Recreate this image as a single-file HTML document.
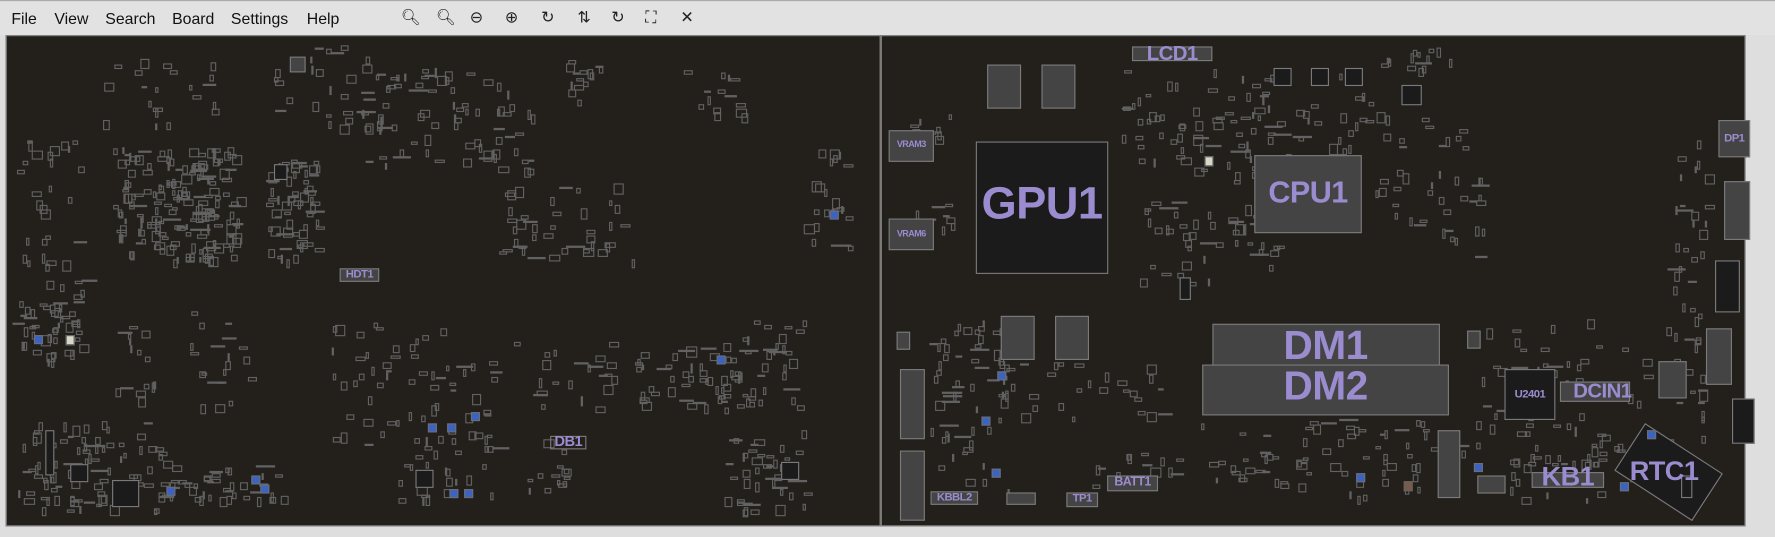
<!DOCTYPE html>
<html><head><meta charset="utf-8">
<style>
html,body{margin:0;padding:0;background:#dedede;overflow:hidden;width:1775px;height:536px}
#root{position:absolute;left:0;top:0;width:1568px;height:474px;transform:scale(1.13202);transform-origin:0 0;font-family:"Liberation Sans",sans-serif}
.menu{position:absolute;top:0;left:0;width:1568px;height:30px;background:#e2e2e2;border-top:1px solid #aaa}
.menu span{position:absolute;top:7px;font-size:14px;color:#111}
.menu i{position:absolute;top:6px;font-style:normal;font-size:14px;color:#222}
.panel{position:absolute;background:#23201c;border:1px solid #888;overflow:hidden}
.c{position:absolute;border:1px solid #7a7a7a;box-sizing:border-box;z-index:2}
.f{background:#444}
.d{background:#1c1b1b}
.l{position:absolute;color:#9b8ccf;font-weight:bold;white-space:nowrap;text-align:center;letter-spacing:-0.5px;z-index:5}
.s{position:absolute;border:1px solid #626262;box-sizing:border-box;z-index:1}
.b{position:absolute;background:#3a63c4;border:1px solid #6e6e6e;box-sizing:border-box;z-index:3}
</style></head><body>
<div id="root">
<div class="menu">
<span style="left:10px">File</span><span style="left:48px">View</span><span style="left:93px">Search</span><span style="left:152px">Board</span><span style="left:204px">Settings</span><span style="left:271px">Help</span>
<i style="left:354px">🔍︎</i><i style="left:385px">🔍︎</i><i style="left:415px">⊖</i><i style="left:446px">⊕</i><i style="left:478px">↻</i><i style="left:510px">⇅</i><i style="left:540px">↻</i><i style="left:570px">⛶</i><i style="left:601px">✕</i>
</div>
<div class="panel" id="L" style="left:5px;top:31px;width:771px;height:432px"></div>
<div class="panel" id="R" style="left:778px;top:31px;width:762px;height:432px"></div>
<div style="position:absolute;left:0;top:0" id="big">
<div class="c d" style="left:862px;top:125px;width:117px;height:117px"></div>
<div class="l" style="left:862px;top:158px;width:117px;font-size:40px">GPU1</div>
<div class="c f" style="left:1108px;top:137px;width:95px;height:69px"></div>
<div class="l" style="left:1108px;top:155px;width:95px;font-size:27px">CPU1</div>
<div class="c f" style="left:1071px;top:286px;width:201px;height:37px"></div>
<div class="c f" style="left:1062px;top:322px;width:218px;height:45px"></div>
<div class="l" style="left:1062px;top:287px;width:218px;font-size:36px;line-height:36px">DM1<br>DM2</div>
<div class="c f" style="left:785px;top:115px;width:40px;height:28px"></div>
<div class="l" style="left:785px;top:123px;width:40px;font-size:8px">VRAM3</div>
<div class="c f" style="left:785px;top:193px;width:40px;height:28px"></div>
<div class="l" style="left:785px;top:202px;width:40px;font-size:8px">VRAM6</div>
<div class="c f" style="left:1000px;top:41px;width:71px;height:13px"></div>
<div class="l" style="left:1000px;top:37px;width:71px;font-size:18px">LCD1</div>
<div class="c f" style="left:1518px;top:106px;width:28px;height:33px"></div>
<div class="l" style="left:1518px;top:117px;width:28px;font-size:10px">DP1</div>
<div class="c d" style="left:1329px;top:326px;width:45px;height:45px"></div>
<div class="l" style="left:1329px;top:343px;width:45px;font-size:10px">U2401</div>
<div class="c f" style="left:1378px;top:337px;width:62px;height:18px"></div>
<div class="l" style="left:1378px;top:335px;width:75px;font-size:18px">DCIN1</div>
<div class="c f" style="left:1353px;top:417px;width:64px;height:14px"></div>
<div class="l" style="left:1350px;top:408px;width:70px;font-size:24px">KB1</div>
<div class="c d" style="left:1433px;top:392px;width:82px;height:50px;transform:rotate(33deg)"></div>
<div class="l" style="left:1430px;top:403px;width:80px;font-size:24px">RTC1</div>
<div class="c f" style="left:822px;top:434px;width:42px;height:12px"></div>
<div class="l" style="left:822px;top:434px;width:42px;font-size:10px">KBBL2</div>
<div class="c f" style="left:889px;top:435px;width:26px;height:11px"></div>
<div class="c f" style="left:942px;top:435px;width:28px;height:13px"></div>
<div class="l" style="left:942px;top:435px;width:28px;font-size:10px">TP1</div>
<div class="c f" style="left:978px;top:420px;width:45px;height:14px"></div>
<div class="l" style="left:978px;top:420px;width:45px;font-size:11px">BATT1</div>
<div class="c f" style="left:872px;top:57px;width:30px;height:39px"></div>
<div class="c f" style="left:920px;top:57px;width:30px;height:39px"></div>
<div class="c f" style="left:884px;top:279px;width:30px;height:39px"></div>
<div class="c f" style="left:932px;top:279px;width:30px;height:39px"></div>
<div class="c f" style="left:795px;top:326px;width:22px;height:62px"></div>
<div class="c f" style="left:795px;top:398px;width:22px;height:62px"></div>
<div class="c f" style="left:792px;top:293px;width:12px;height:16px"></div>
<div class="c f" style="left:1296px;top:292px;width:12px;height:16px"></div>
<div class="c f" style="left:1270px;top:380px;width:20px;height:60px"></div>
<div class="c f" style="left:1305px;top:420px;width:25px;height:16px"></div>
<div class="c f" style="left:1523px;top:160px;width:23px;height:52px"></div>
<div class="c d" style="left:1515px;top:230px;width:22px;height:46px"></div>
<div class="c f" style="left:1507px;top:290px;width:23px;height:50px"></div>
<div class="c f" style="left:1465px;top:319px;width:25px;height:33px"></div>
<div class="c d" style="left:1530px;top:352px;width:20px;height:40px"></div>
<div class="c d" style="left:1485px;top:420px;width:10px;height:20px"></div>
<div class="c d" style="left:1125px;top:60px;width:16px;height:16px"></div>
<div class="c d" style="left:1158px;top:60px;width:16px;height:16px"></div>
<div class="c d" style="left:1188px;top:60px;width:16px;height:16px"></div>
<div class="c d" style="left:1238px;top:75px;width:18px;height:18px"></div>
<div class="c d" style="left:1042px;top:245px;width:10px;height:20px"></div>
<div class="c f" style="left:300px;top:237px;width:35px;height:12px"></div>
<div class="l" style="left:300px;top:237px;width:35px;font-size:10px">HDT1</div>
<div class="c" style="left:486px;top:385px;width:32px;height:12px"></div>
<div class="l" style="left:483px;top:382px;width:38px;font-size:13px">DB1</div>
<div class="c f" style="left:256px;top:50px;width:14px;height:14px"></div>
<div class="c d" style="left:62px;top:410px;width:16px;height:16px"></div>
<div class="c d" style="left:99px;top:424px;width:24px;height:24px"></div>
<div class="c d" style="left:367px;top:415px;width:16px;height:16px"></div>
<div class="c d" style="left:690px;top:408px;width:16px;height:16px"></div>
<div class="c d" style="left:40px;top:380px;width:8px;height:40px"></div>
<div class="c d" style="left:242px;top:145px;width:12px;height:14px"></div>
</div>
</div>
<script>
var seed=7;function r(){seed=(seed*16807)%2147483647;return (seed-1)/2147483646;}
var big=document.getElementById('big');
function cl(cx,cy,w,h,n){
 n=Math.round(n*0.7);
 for(var i=0;i<n;i++){
  var e=document.createElement('div');
  var t=r();var ww,hh;
  if(t<0.4){ww=2+r()*3;hh=5+r()*4;}else if(t<0.7){ww=5+r()*4;hh=2+r()*3;}else if(t<0.92){ww=5+r()*5;hh=5+r()*5;}else{ww=10+r()*8;hh=2;}
  e.className='s';
  e.style.left=(cx+r()*w)+'px';e.style.top=(cy+r()*h)+'px';
  e.style.width=ww+'px';e.style.height=hh+'px';
  big.appendChild(e);
 }
}
var C=[[100,130,110,100,260],[235,140,45,90,90],[300,90,170,60,80],[340,60,120,20,30],[440,160,120,70,60],[15,120,60,180,60],[10,260,60,60,50],[15,370,130,80,120],[140,410,110,30,60],[100,270,120,90,50],[290,280,60,120,40],[360,290,100,80,40],[470,300,70,60,30],[560,300,90,60,70],[650,280,60,80,50],[640,380,70,70,60],[350,380,90,60,50],[460,385,40,50,20],[710,130,40,90,30],[490,50,40,40,20],[600,60,60,40,20],[240,40,100,70,40],[90,50,100,60,30],
[990,60,230,80,100],[1000,100,130,150,110],[1210,100,80,100,30],[1270,120,40,110,30],[1470,120,40,320,80],[1300,280,160,130,90],[1180,370,120,70,60],[1060,370,120,60,50],[820,280,70,160,90],[880,320,160,50,40],[1330,380,140,60,50],[960,400,80,30,20],[800,100,40,20,15],[800,180,40,20,15],[1220,40,60,20,20]];
C.forEach(function(c){cl(c[0],c[1],c[2],c[3],c[4]);});
var B=[[30,296],[147,430],[222,420],[230,428],[378,374],[395,374],[416,364],[397,432],[410,432],[633,314],[733,186],[881,328],[867,368],[876,414],[1198,418],[1302,409],[1455,380],[1431,426]];
B.forEach(function(p){var e=document.createElement('div');e.className='b';e.style.left=p[0]+'px';e.style.top=p[1]+'px';e.style.width='8px';e.style.height='8px';big.appendChild(e);});
[[58,296],[99,432],[1064,138],[1240,425]].forEach(function(p){var e=document.createElement('div');e.className='s';e.style.background=p[0]==1240?'#7a5a4a':'#d8d8c8';e.style.left=p[0]+'px';e.style.top=p[1]+'px';e.style.width='8px';e.style.height='9px';big.appendChild(e);});
</script>
</body></html>
